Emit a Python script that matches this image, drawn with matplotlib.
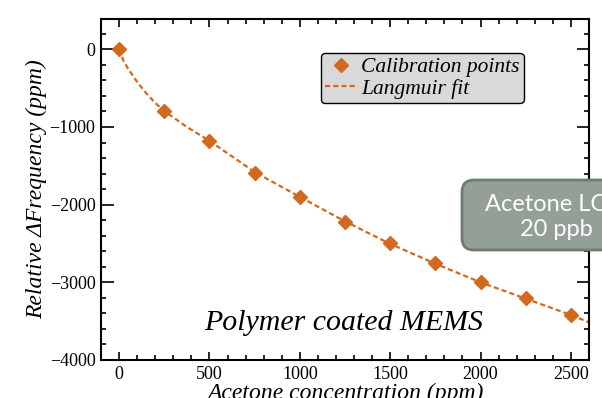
import numpy as np
import matplotlib
matplotlib.use('Agg')
import matplotlib.pyplot as plt
from matplotlib.ticker import MultipleLocator
from matplotlib.patches import FancyBboxPatch

# calibration points
conc = [0, 250, 500, 750, 1000, 1250, 1500, 1750, 2000, 2250, 2500]
shift = [0, -795, -1175, -1590, -1900, -2220, -2500, -2755, -3000, -3205, -3425]

# Langmuir fit curve
fit_x = [0, 25, 50, 100, 150, 200, 250, 375, 500, 750, 1000, 1250, 1500,
         1750, 2000, 2250, 2500, 2600]
fit_y = [0, -150, -250, -420, -565, -690, -795, -1000, -1178, -1580, -1900,
         -2215, -2505, -2760, -3000, -3210, -3420, -3515]

ORANGE = '#d2691f'
SERIF = ['Liberation Serif', 'DejaVu Serif']

fig = plt.figure(figsize=(6.02, 3.98), dpi=100)
ax = fig.add_axes([101 / 602, 38 / 398, 488 / 602, 341 / 398])

ax.plot(fit_x, fit_y, linestyle=(0, (2.3, 1.4)), color=ORANGE, lw=1.6,
        label='Langmuir fit', zorder=2)
ax.plot(conc, shift, linestyle='none', marker='D', ms=7.5, color=ORANGE,
        label='Calibration points', zorder=3)

ax.set_xlim(-100, 2600)
ax.set_ylim(-4000, 390)
ax.xaxis.set_major_locator(MultipleLocator(500))
ax.xaxis.set_minor_locator(MultipleLocator(100))
ax.yaxis.set_major_locator(MultipleLocator(1000))
ax.yaxis.set_minor_locator(MultipleLocator(200))
ax.tick_params(which='both', direction='in', top=True, right=True, width=1.2)
ax.tick_params(which='major', labelsize=13, pad=4)
ax.tick_params(axis='x', which='major', length=6)
ax.tick_params(axis='y', which='major', length=9)
ax.tick_params(which='minor', length=3.5)
for lab in ax.get_xticklabels() + ax.get_yticklabels():
    lab.set_family(SERIF)
for sp in ax.spines.values():
    sp.set_linewidth(1.5)

ax.set_xlabel('Acetone concentration (ppm)', family=SERIF, style='italic',
              fontsize=17, labelpad=0)
ax.set_ylabel('Relative \u0394Frequency (ppm)', family=SERIF,
              style='italic', fontsize=17, labelpad=1.5)

ax.text(1240, -3520, 'Polymer coated MEMS', family=SERIF, style='italic',
        fontsize=21.5, ha='center', va='center')

# legend lists the markers first
handles, labels = ax.get_legend_handles_labels()
leg = ax.legend(handles[::-1], labels[::-1], loc='upper left',
                bbox_to_anchor=((321 - 101) / 488, (379 - 72) / 341),
                borderaxespad=0, frameon=True, fancybox=True,
                facecolor='#d9d9d9', edgecolor='black', framealpha=1,
                prop={'family': SERIF, 'style': 'italic', 'size': 15.5},
                handlelength=1.5, handletextpad=0.15, borderpad=0.2,
                labelspacing=0.05)
leg.get_frame().set_linewidth(1.0)

# LOD badge, runs past the right edge of the figure
W, H = 602, 398
badge = FancyBboxPatch((462 / W, 1 - 250 / H), 200 / W, 70 / H,
                       boxstyle='round,pad=0,rounding_size=0.02',
                       transform=fig.transFigure, facecolor='#939f97',
                       edgecolor='#6d7b72', linewidth=2, zorder=5,
                       mutation_aspect=W / H)
fig.add_artist(badge)
fig.text(556 / W, 1 - 217 / H, 'Acetone LOD\n20 ppb', family=['Lato'],
         fontsize=17, color='white', ha='center', va='center',
         linespacing=1.2, zorder=6)

fig.savefig('out.png', dpi=100)
